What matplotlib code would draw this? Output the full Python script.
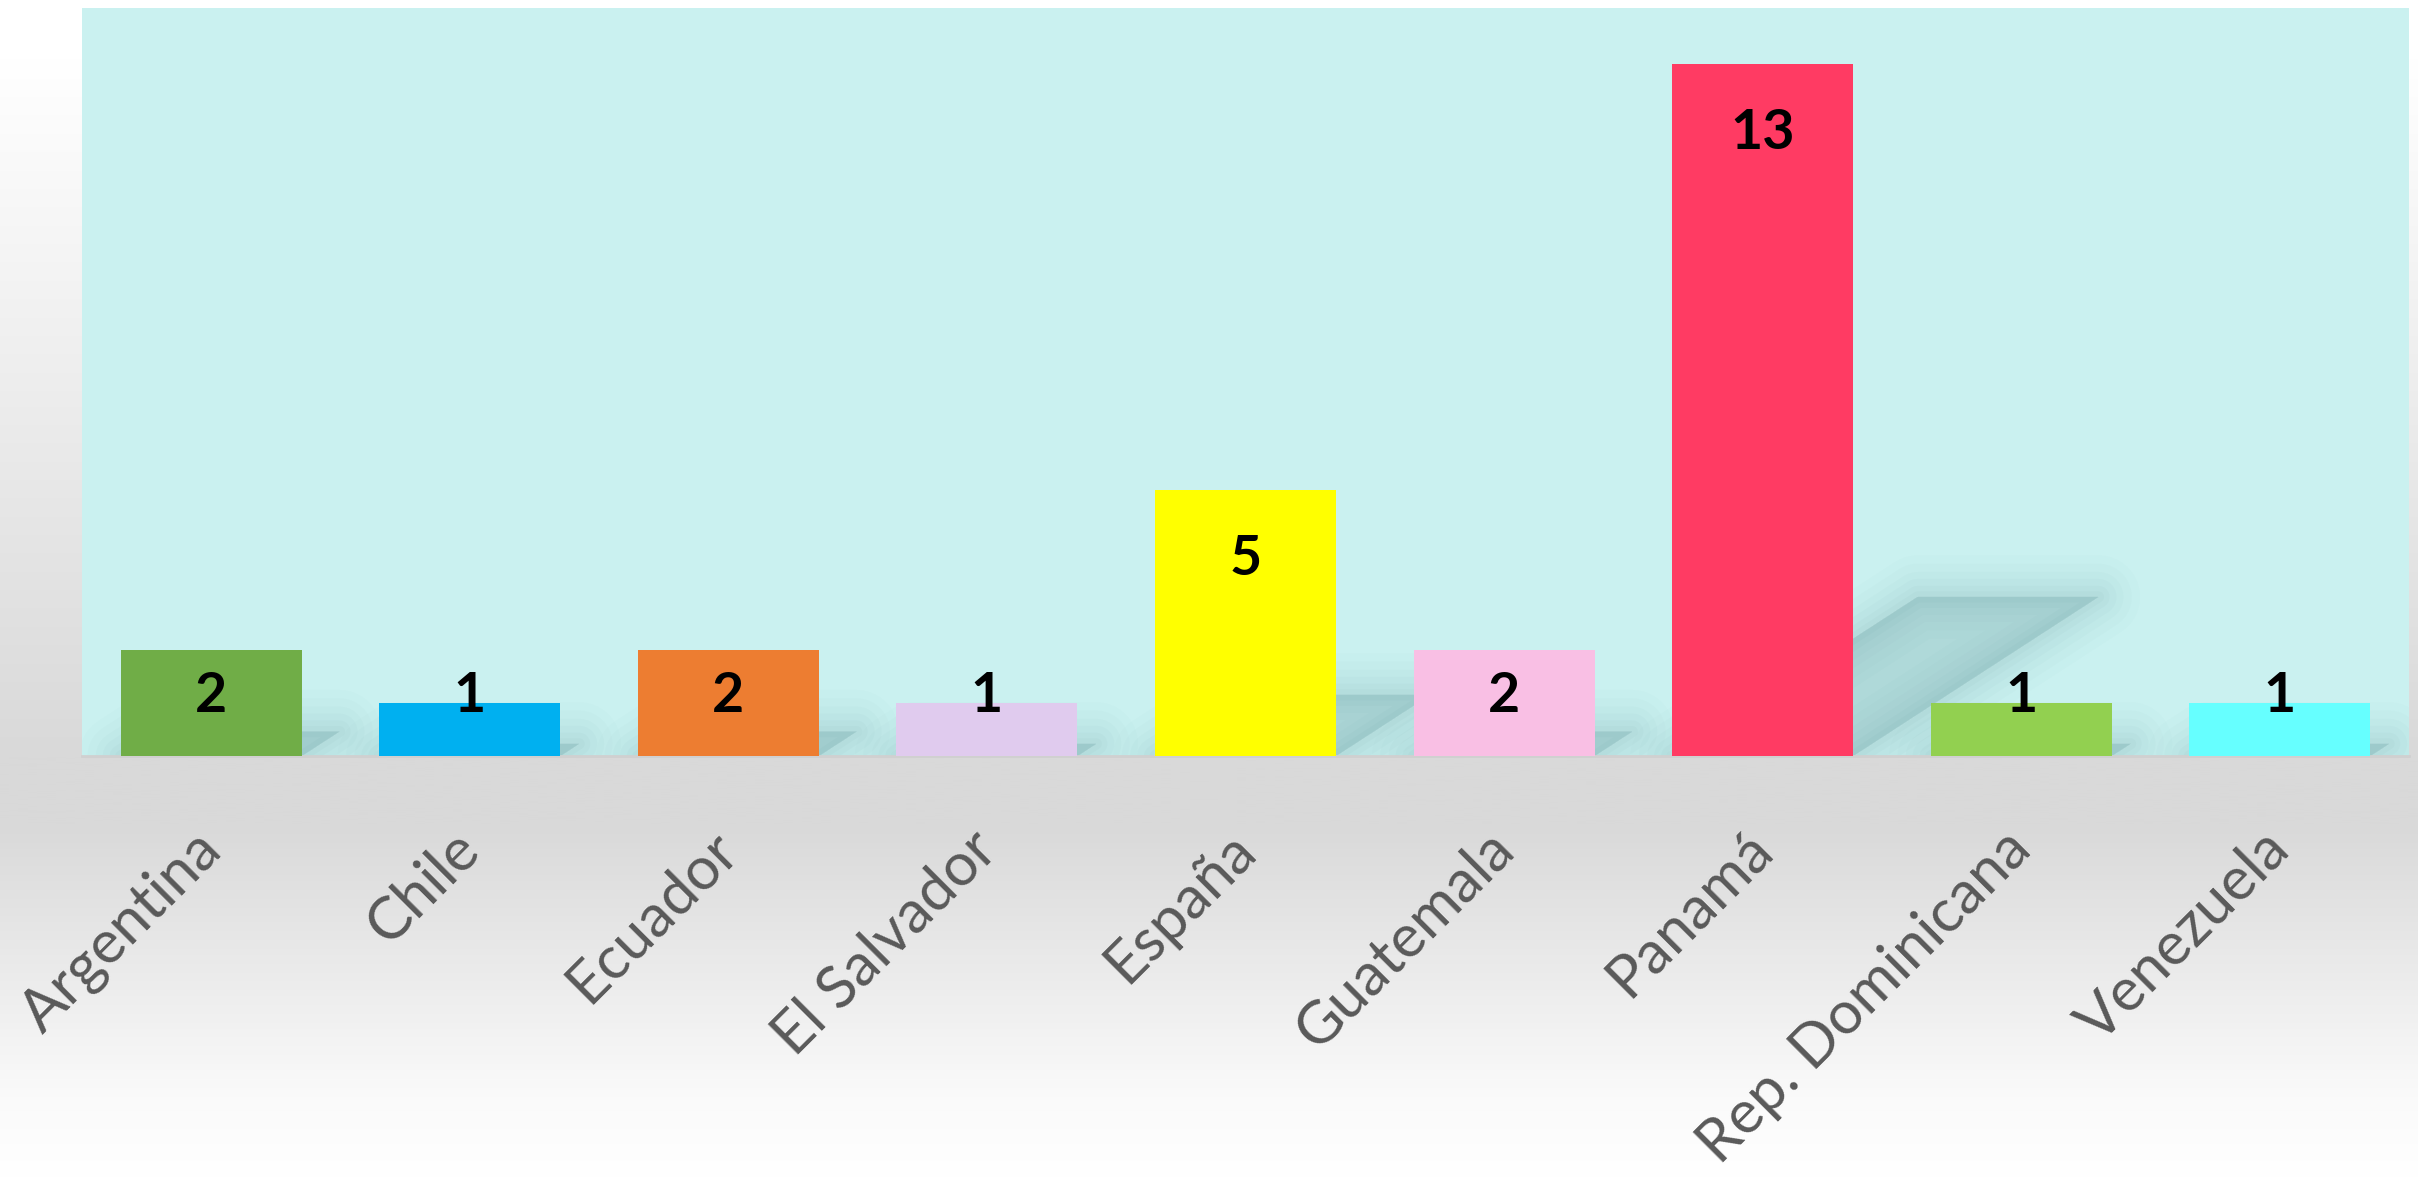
import matplotlib.pyplot as plt
import numpy as np
from matplotlib.colors import LinearSegmentedColormap
from matplotlib.patches import Polygon
from matplotlib.transforms import ScaledTranslation

countries = ["Argentina", "Chile", "Ecuador", "El Salvador", "España",
             "Guatemala", "Panamá", "Rep. Dominicana", "Venezuela"]
counts = [2, 1, 2, 1, 5, 2, 13, 1, 1]
bar_colors = ["#70ad47", "#00b0f0", "#ed7d31", "#e0cbee", "#ffff00",
              "#f9bfe4", "#ff3b63", "#92d050", "#66ffff"]

plt.rcParams['font.family'] = ['Lato', 'DejaVu Sans']

fig = plt.figure(figsize=(24.18, 11.8), dpi=100)

# background gradient: white -> grey at the axis line -> white at the bottom
bg = fig.add_axes([0, 0, 1, 1], zorder=-10)
bg.set_axis_off()
grad = LinearSegmentedColormap.from_list(
    "bg", [(0.0, "#ffffff"), (0.05, "#ffffff"), (0.64, "#d9d9d9"),
           (0.70, "#d9d9d9"), (0.93, "#fafafa"), (1.0, "#ffffff")])
bg.imshow(np.linspace(0, 1, 512).reshape(-1, 1), aspect="auto", cmap=grad,
          extent=[0, 1, 0, 1], origin="upper")
bg.set_xlim(0, 1)
bg.set_ylim(0, 1)

ax = fig.add_axes([0.0339, 0.3593, 0.9624, 0.634])
ax.set_facecolor("#caf1f0")
x = np.arange(len(countries))
width = 0.7

# soft perspective shadows cast to the right of each bar
for xi, v in zip(x, counts):
    dx, dy = 0.073 * v, 0.23 * v
    pts = [(xi - width / 2, 0), (xi + width / 2, 0),
           (xi + width / 2 + dx, dy), (xi - width / 2 + dx, dy)]
    for lw, a in [(60, 0.02), (48, 0.025), (36, 0.03), (26, 0.035),
                  (16, 0.04), (8, 0.045), (0, 0.05)]:
        ax.add_patch(Polygon(pts, closed=True, facecolor="#5f8f94",
                             edgecolor="#5f8f94", linewidth=lw, alpha=a,
                             joinstyle="round", zorder=1))

bars = ax.bar(x, counts, width=width, color=bar_colors, zorder=3)

for xi, v in zip(x, counts):
    ax.text(xi, max(v - 1.3, 1.13), str(v), ha="center", va="center",
            fontsize=40, fontweight="bold", color="black", zorder=5)

ax.set_xlim(-0.5, len(countries) - 0.5)
ax.set_ylim(0, 14.06)
ax.set_yticks([])
ax.set_xticks(x)
ax.set_xticklabels(countries, rotation=45, ha="right", va="top",
                   fontsize=43, color="#595959")
ax.tick_params(axis="x", length=0, pad=47)
shift = ScaledTranslation(0.2, 0, fig.dpi_scale_trans)
for lbl in ax.get_xticklabels():
    lbl.set_transform(lbl.get_transform() + shift)
for s in ["top", "left", "right"]:
    ax.spines[s].set_visible(False)
ax.spines["bottom"].set_color("#d0d0d0")
ax.spines["bottom"].set_linewidth(2)

fig.savefig("out.png", dpi=100)
